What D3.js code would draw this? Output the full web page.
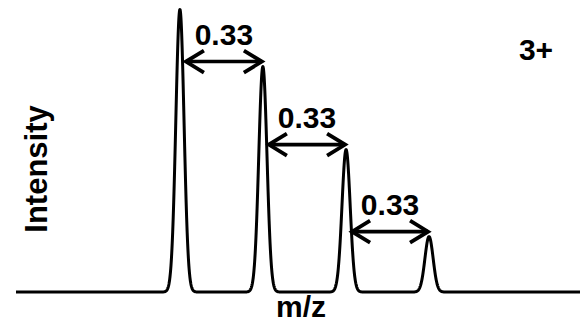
<!DOCTYPE html>
<html><head><meta charset="utf-8">
<script src="https://cdn.jsdelivr.net/npm/d3@7"></script>
<style>
html,body{margin:0;padding:0;background:#fff;}
svg{display:block;}
text{font-family:"Liberation Sans",Arial,sans-serif;font-weight:bold;fill:#000;}
</style></head>
<body>
<script>
// Data
const peakMz = [1000.000, 1000.333, 1000.667, 1001.000];
const peakIntensity = [100, 79.8, 50.4, 19.6];
const spacingLabels = ["0.33", "0.33", "0.33"];
const chargeLabel = "3+";
const xLabel = "m/z";
const yLabel = "Intensity";
const peakSigma = 0.0165; // peak width in m/z units

const W = 580, H = 322;
const svg = d3.select("body").append("svg").attr("width", W).attr("height", H);

const x = d3.scaleLinear().domain([999.342, 1001.606]).range([16, 580]);
const y = d3.scaleLinear().domain([0, 100]).range([292, 9.5]);

// profile built from the peak list
const [d0, d1] = x.domain();
const samples = d3.range(d0, d1, 0.001).concat([d1]);
const profile = samples.map(m => [m, d3.sum(peakMz, (p, i) => peakIntensity[i] * Math.exp(-0.5 * ((m - p) / peakSigma) ** 2))]);

svg.append("path")
  .datum(profile)
  .attr("fill", "none")
  .attr("stroke", "#000")
  .attr("stroke-width", 3)
  .attr("stroke-linejoin", "round")
  .attr("d", d3.line().x(d => x(d[0])).y(d => y(d[1])));

// arrows
const defs = svg.append("defs");
const mk = defs.append("marker").attr("id", "ah")
  .attr("viewBox", "-22 -14 26 28").attr("refX", 0).attr("refY", 0)
  .attr("markerWidth", 26).attr("markerHeight", 28)
  .attr("markerUnits", "userSpaceOnUse").attr("orient", "auto-start-reverse");
mk.append("path").attr("d", "M-18,-11 L0,0 L-18,11")
  .attr("fill", "none").attr("stroke", "#000").attr("stroke-width", 3.8)
  .attr("stroke-linejoin", "miter");

const pairs = d3.range(peakMz.length - 1);
const g = svg.append("g");
pairs.forEach(i => {
  const x1 = x(peakMz[i]) + 5, x2 = x(peakMz[i + 1]);
  const yy = y(peakIntensity[i + 1]) - 5;
  g.append("line")
    .attr("x1", x1 + 1).attr("x2", x2 - 1).attr("y1", yy).attr("y2", yy)
    .attr("stroke", "#000").attr("stroke-width", 3.6)
    .attr("marker-start", "url(#ah)").attr("marker-end", "url(#ah)");
  g.append("text")
    .attr("x", (x1 + x2) / 2).attr("y", yy - 17)
    .attr("text-anchor", "middle").attr("font-size", 30)
    .text(spacingLabels[i]);
});

svg.append("text").attr("x", 536).attr("y", 60).attr("text-anchor", "middle")
  .attr("font-size", 30).text(chargeLabel);

svg.append("text").attr("x", 301).attr("y", 317).attr("text-anchor", "middle")
  .attr("font-size", 30).text(xLabel);

svg.append("text").attr("transform", "translate(47,169) rotate(-90)")
  .attr("text-anchor", "middle").attr("font-size", 31).text(yLabel);
</script>
</body></html>
